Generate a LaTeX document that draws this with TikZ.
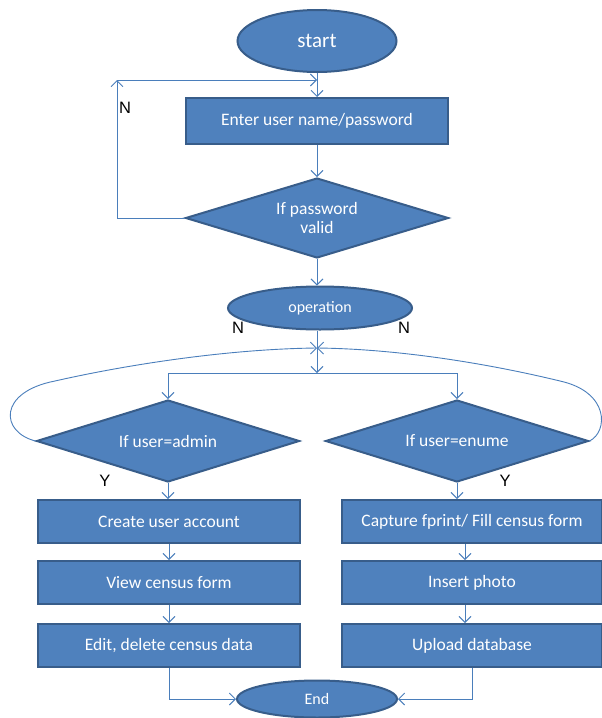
\documentclass[tikz,border=0pt]{standalone}
\usepackage{fontspec}
\setmainfont{Carlito}
\newfontfamily\lblfont{Liberation Sans}
\usetikzlibrary{shapes.geometric,arrows.meta}
\definecolor{boxfill}{HTML}{4F81BD}
\definecolor{boxline}{HTML}{385D8A}
\definecolor{linecol}{HTML}{4A7EBB}
\begin{document}
\begin{tikzpicture}[x=1pt,y=-1pt,
 base/.style={fill=boxfill,draw=boxline,line width=2pt,text=white,inner sep=0pt,font=\fontsize{17.5}{20}\selectfont},
 term/.style={base,ellipse},
 proc/.style={base,rectangle,minimum width=262pt,minimum height=43pt},
 dec/.style={base,diamond,aspect=3.2,minimum width=263pt,minimum height=82pt,align=center},
 cline/.style={draw=linecol,line width=0.9pt},
 arr/.style={cline,-{Straight Barb[length=6pt,width=12pt]}},
 lbl/.style={font=\lblfont\fontsize{16.5}{19}\selectfont,text=black}]
\useasboundingbox (0,0) rectangle (602,718);
% nodes
\node[term,minimum width=159pt,minimum height=62pt,font=\fontsize{21}{25}\selectfont] (start) at (317,41) {start};
\node[proc,minimum height=46pt] (enter) at (317,121) {Enter user name/password};
\node[dec,minimum height=80pt] (pw) at (317,218) {If password\\[-0.5pt]valid};
\node[term,minimum width=184pt,minimum height=43pt,font=\fontsize{16}{19}\selectfont] (op) at (320,308) {operation};
\coordinate (J) at (317,348);
\coordinate (K) at (317,373);
\coordinate (Ltop) at (117,80);
\coordinate (Mtop) at (317,80);
\node[dec] (adm) at (168,441) {If user=admin};
\node[dec] (enu) at (457,441) {If user=enume};
\node[proc] (create) at (169,521.5) {Create user account};
\node[proc] (view) at (169,582.5) {View census form};
\node[proc] (edit) at (169,645.5) {Edit, delete census data};
\node[proc,minimum width=260pt] (cap) at (472,521.5) {Capture fprint/ Fill census form};
\node[proc,minimum width=260pt] (ins) at (472,582.5) {Insert photo};
\node[proc,minimum width=260pt] (upl) at (472,645.5) {Upload database};
\node[term,minimum width=160pt,minimum height=37pt,font=\fontsize{16}{19}\selectfont] (end) at (317,699) {End};
% labels
\node[lbl] (n1) at (125,108) {N};
\node[lbl] (n2) at (238,328) {N};
\node[lbl] (n3) at (404,328) {N};
\node[lbl] (y1) at (105,481) {Y};
\node[lbl] (y2) at (505,481) {Y};
% connectors
\draw[arr] (start) -- (start |- enter.north);
\draw[arr] (pw.west) -| (Ltop);
\draw[arr] (Ltop) -- (Mtop);
\draw[arr] (enter) -- (pw.north);
\draw[arr] (pw.south) -- (pw.south |- op.north);
\draw[cline] (op.south -| J) -- (J);
\draw[arr] (J) -- (K);
\draw[arr] (K) -| (adm.north);
\draw[arr] (K) -| (enu.north);
\draw[arr] (adm.west) .. controls (0,432) and (-2,392) .. (55,381) .. controls (130,364) and (230,349) .. (J);
\draw[arr] (enu.east) .. controls (608,432) and (610,392) .. (560,381) .. controls (490,364) and (400,349) .. (J);
\draw[arr] (adm.south) -- (adm.south |- create.north);
\draw[arr] (create) -- (view);
\draw[arr] (view) -- (edit);
\draw[arr] (enu.south) -- (enu.south |- cap.north);
\draw[arr] ([xshift=-7pt]cap.south) -- ([xshift=-7pt]ins.north);
\draw[arr] ([xshift=-7pt]ins.south) -- ([xshift=-7pt]upl.north);
\draw[arr] (edit.south) |- (end.west);
\draw[arr] (upl.south) |- (end.east);
\end{tikzpicture}
\end{document}
